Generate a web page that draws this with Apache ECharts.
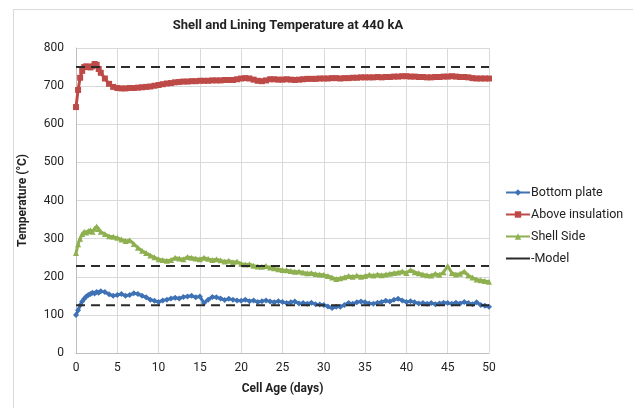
<!DOCTYPE html>
<html>
<head>
<meta charset="utf-8">
<script src="https://cdn.jsdelivr.net/npm/echarts@6/dist/echarts.min.js"></script>
<style>
  html, body { margin: 0; padding: 0; background: #fff; }
  #main { width: 633px; height: 408px; }
</style>
</head>
<body>
<div id="main"></div>
<script>
// cell age (days)
var days = [
  0, 0.25, 0.5, 0.75, 1, 1.25, 1.5, 1.75, 2, 2.25, 2.5, 2.75, 3,
  3.5, 4, 4.5, 5, 5.5, 6, 6.5, 7, 7.5, 8,
  8.5, 9, 9.5, 10, 10.5, 11, 11.5, 12, 12.5, 13,
  13.5, 14, 14.5, 15, 15.5, 16, 16.5, 17, 17.5, 18,
  18.5, 19, 19.5, 20, 20.5, 21, 21.5, 22, 22.5, 23,
  23.5, 24, 24.5, 25, 25.5, 26, 26.5, 27, 27.5, 28,
  28.5, 29, 29.5, 30, 30.5, 31, 31.5, 32, 32.5, 33,
  33.5, 34, 34.5, 35, 35.5, 36, 36.5, 37, 37.5, 38,
  38.5, 39, 39.5, 40, 40.5, 41, 41.5, 42, 42.5, 43,
  43.5, 44, 44.5, 45, 45.5, 46, 46.5, 47, 47.5, 48,
  48.5, 49, 49.5, 50
];
var bottomPlate = [
  100, 112, 125, 135, 142, 148, 152, 155, 158, 156, 160, 158, 162,
  160, 154, 150, 152, 155, 150, 152, 157, 155, 150,
  146, 140, 137, 134, 138, 140, 143, 145, 143, 147,
  148, 150, 146, 148, 131, 140, 147, 146, 143, 139,
  142, 140, 138, 137, 140, 136, 138, 134, 136, 138,
  135, 133, 136, 134, 131, 133, 135, 130, 131, 129,
  132, 128, 127, 126, 122, 118, 121, 121, 126, 131,
  129, 133, 135, 133, 130, 129, 132, 134, 137, 135,
  140, 142, 138, 134, 136, 133, 130, 131, 129, 131,
  128, 130, 132, 131, 129, 132, 130, 134, 131, 128,
  133, 126, 124, 121
];
var aboveInsulation = [
  645, 690, 722, 740, 750, 752, 750, 749, 752, 758, 756, 745, 735,
  720, 706, 698, 695, 694, 694, 695, 695, 696, 697,
  698, 699, 701, 703, 705, 707, 708, 710, 711, 712,
  712, 713, 713, 714, 714, 714, 715, 715, 715, 716,
  716, 716, 718, 720, 721, 720, 717, 714, 713, 715,
  718, 718, 717, 717, 718, 717, 716, 717, 718, 719,
  719, 719, 720, 720, 720, 721, 721, 720, 721, 721,
  722, 722, 723, 723, 723, 723, 724, 723, 724, 724,
  725, 725, 726, 726, 725, 725, 724, 724, 723, 723,
  724, 724, 725, 725, 726, 725, 724, 724, 723, 721,
  720, 720, 720, 720
];
var shellSide = [
  262, 285, 300, 312, 318, 316, 320, 322, 318, 326, 332, 325, 318,
  312, 306, 305, 302, 298, 294, 296, 286, 276, 268,
  262, 256, 251, 246, 244, 242, 244, 250, 248, 246,
  252, 250, 248, 246, 250, 247, 244, 246, 243, 240,
  242, 238, 240, 234, 232, 233, 229, 227, 226, 228,
  224, 222, 220, 218, 217, 215, 213, 214, 211, 209,
  210, 207, 206, 205, 202, 198, 194, 196, 199, 202,
  200, 203, 200, 202, 205, 203, 206, 204, 206, 208,
  210, 211, 214, 210, 218, 212, 209, 206, 204, 203,
  208, 205, 212, 228, 210, 206, 208, 214, 203, 198,
  193, 191, 189, 187
];
// model levels
var modelLevels = [750, 228, 125];
var xRange = [0, 50];

function pairs(ys) {
  var out = [];
  for (var i = 0; i < days.length; i++) out.push([days[i], ys[i]]);
  return out;
}

var font = 'Roboto, "Liberation Sans", sans-serif';
var myChart = echarts.init(document.getElementById('main'));

var series = [
  {
    name: 'Bottom plate', type: 'line', data: pairs(bottomPlate),
    symbol: 'diamond', symbolSize: 6, showSymbol: true,
    lineStyle: { width: 3, color: '#3f72b5' },
    itemStyle: { color: '#3f72b5' }, z: 3
  },
  {
    name: 'Above insulation', type: 'line', data: pairs(aboveInsulation),
    symbol: 'rect', symbolSize: 6, showSymbol: true,
    lineStyle: { width: 3, color: '#be4a47' },
    itemStyle: { color: '#be4a47' }, z: 3
  },
  {
    name: 'Shell Side', type: 'line', data: pairs(shellSide),
    symbol: 'triangle', symbolSize: 6, showSymbol: true,
    lineStyle: { width: 3, color: '#8fb050' },
    itemStyle: { color: '#8fb050' }, z: 3
  }
];
modelLevels.forEach(function (lv) {
  series.push({
    name: '-Model', type: 'line', symbol: 'none',
    data: [[xRange[0], lv], [xRange[1], lv]],
    lineStyle: { width: 2, type: [9, 6], color: '#2b2b2b' },
    itemStyle: { color: '#2b2b2b' }, z: 4
  });
});

myChart.setOption({
  animation: false,
  textStyle: { fontFamily: font },
  title: {
    text: 'Shell and Lining Temperature at 440 kA',
    left: 283, top: 14, textAlign: 'center',
    textStyle: { fontSize: 13, fontWeight: 'bold', color: '#222', fontFamily: font }
  },
  graphic: [{
    type: 'rect', left: 11, top: 7, silent: true,
    shape: { width: 700, height: 500 },
    style: { fill: 'none', stroke: '#d9d9d9', lineWidth: 1 }
  }],
  legend: {
    orient: 'vertical', left: 500, top: 181, itemGap: 9,
    itemWidth: 24, itemHeight: 8,
    data: [
      'Bottom plate', 'Above insulation', 'Shell Side',
      { name: '-Model', icon: 'path://M0,0 L24,0 L24,2 L0,2 Z' }
    ],
    textStyle: { fontSize: 12.5, color: '#222', fontFamily: font, padding: [0, 0, 0, -4] }
  },
  grid: { left: 76, right: 144, top: 48, bottom: 55 },
  xAxis: {
    type: 'value', min: 0, max: 50, interval: 5,
    name: 'Cell Age (days)', nameLocation: 'middle', nameGap: 30,
    nameTextStyle: { fontSize: 12, fontWeight: 'bold', color: '#222' },
    axisLine: { show: true, lineStyle: { color: '#bfbfbf' } },
    axisTick: { show: false },
    axisLabel: { fontSize: 12, color: '#222', margin: 9 },
    splitLine: { show: true, lineStyle: { color: '#d9d9d9' } }
  },
  yAxis: {
    type: 'value', min: 0, max: 800, interval: 100,
    name: 'Temperature (°C)', nameLocation: 'middle', nameGap: 47,
    nameTextStyle: { fontSize: 12, fontWeight: 'bold', color: '#222' },
    axisLine: { show: true, lineStyle: { color: '#bfbfbf' } },
    axisTick: { show: false },
    axisLabel: { fontSize: 12, color: '#222', margin: 12 },
    splitLine: { show: true, lineStyle: { color: '#d9d9d9' } }
  },
  series: series
});
window.addEventListener('resize', function () { myChart.resize(); });
</script>
</body>
</html>
